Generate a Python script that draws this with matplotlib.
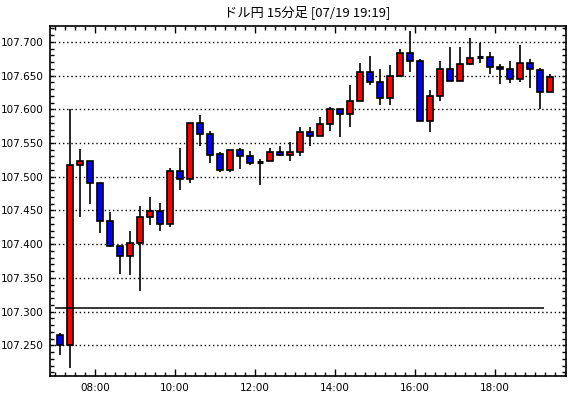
import matplotlib
matplotlib.use("Agg")
import matplotlib.pyplot as plt
from matplotlib.ticker import MultipleLocator, FixedLocator

# 15分足 07:00 - 19:15
horas = ["07:00", "07:15", "07:30", "07:45", "08:00", "08:15", "08:30", "08:45",
         "09:00", "09:15", "09:30", "09:45", "10:00", "10:15", "10:30", "10:45",
         "11:00", "11:15", "11:30", "11:45", "12:00", "12:15", "12:30", "12:45",
         "13:00", "13:15", "13:30", "13:45", "14:00", "14:15", "14:30", "14:45",
         "15:00", "15:15", "15:30", "15:45", "16:00", "16:15", "16:30", "16:45",
         "17:00", "17:15", "17:30", "17:45", "18:00", "18:15", "18:30", "18:45",
         "19:00", "19:15"]
aperturas = [107.265, 107.250, 107.517, 107.523, 107.490, 107.435, 107.398, 107.383,
             107.401, 107.441, 107.449, 107.430, 107.508, 107.496, 107.579, 107.563,
             107.533, 107.510, 107.539, 107.530, 107.522, 107.523, 107.536, 107.532,
             107.536, 107.566, 107.561, 107.578, 107.600, 107.593, 107.612, 107.656,
             107.640, 107.616, 107.649, 107.683, 107.671, 107.582, 107.619, 107.659,
             107.642, 107.667, 107.677, 107.677, 107.662, 107.659, 107.645, 107.668,
             107.658, 107.625]
maximos = [107.269, 107.600, 107.541, 107.523, 107.490, 107.448, 107.398, 107.419,
           107.457, 107.470, 107.461, 107.513, 107.542, 107.579, 107.592, 107.568,
           107.537, 107.539, 107.542, 107.538, 107.527, 107.542, 107.545, 107.551,
           107.573, 107.573, 107.588, 107.603, 107.600, 107.636, 107.668, 107.679,
           107.659, 107.665, 107.689, 107.716, 107.674, 107.628, 107.671, 107.692,
           107.693, 107.705, 107.699, 107.685, 107.667, 107.671, 107.696, 107.675,
           107.661, 107.653]
minimos = [107.235, 107.216, 107.441, 107.460, 107.416, 107.396, 107.356, 107.355,
           107.330, 107.429, 107.419, 107.426, 107.481, 107.491, 107.546, 107.520,
           107.507, 107.507, 107.512, 107.518, 107.487, 107.523, 107.530, 107.524,
           107.530, 107.545, 107.561, 107.568, 107.559, 107.573, 107.612, 107.636,
           107.607, 107.607, 107.648, 107.656, 107.582, 107.566, 107.613, 107.642,
           107.642, 107.665, 107.668, 107.653, 107.637, 107.639, 107.640, 107.631,
           107.600, 107.625]
cierres = [107.250, 107.517, 107.523, 107.490, 107.435, 107.398, 107.383, 107.401,
           107.440, 107.449, 107.430, 107.508, 107.496, 107.579, 107.563, 107.532,
           107.510, 107.539, 107.530, 107.521, 107.522, 107.536, 107.532, 107.536,
           107.566, 107.561, 107.578, 107.600, 107.593, 107.612, 107.656, 107.640,
           107.616, 107.649, 107.683, 107.671, 107.582, 107.619, 107.659, 107.642,
           107.667, 107.676, 107.677, 107.662, 107.659, 107.645, 107.668, 107.659,
           107.625, 107.648]
linea_ref = 107.305
etiquetas_x = ["08:00", "10:00", "12:00", "14:00", "16:00", "18:00"]
titulo = "ドル円 15分足 [07/19 19:19]"


def a_horas(h):
    hh, mm = h.split(":")
    return int(hh) + int(mm) / 60.0


fig = plt.figure(figsize=(5.70, 3.98), dpi=100)
ax = fig.add_axes([49.5 / 570, 22 / 398, 516 / 570, 350 / 398])

xs = [a_horas(h) + 0.125 for h in horas]

for x, o, hi, lo, c in zip(xs, aperturas, maximos, minimos, cierres):
    ax.vlines(x, lo, hi, color="black", linewidth=1.2, zorder=2)
    if abs(c - o) < 0.0005:
        ax.hlines(c, x - 0.075, x + 0.075, color="black", linewidth=2.2, zorder=3)
    else:
        color = "#ff0000" if c > o else "#0000ff"
        ax.bar(x, abs(c - o), bottom=min(o, c), width=0.15, color=color,
               edgecolor="black", linewidth=1.2, zorder=3)

ax.hlines(linea_ref, 7.0, 19.225, color="black", linewidth=1.1, zorder=4)

ax.set_xlim(6.8625, 19.7625)
ax.set_ylim(107.2045, 107.7235)

ax.yaxis.set_major_locator(MultipleLocator(0.05))
ax.yaxis.set_minor_locator(MultipleLocator(0.01))
ax.yaxis.set_major_formatter(plt.FuncFormatter(lambda v, p: "%.3f" % v))
ax.xaxis.set_major_locator(FixedLocator([8, 10, 12, 14, 16, 18]))
ax.xaxis.set_minor_locator(MultipleLocator(0.25))
ax.set_xticklabels(etiquetas_x)

ax.grid(True, axis="y", which="major", color="black", linestyle=(0, (1, 2)),
        linewidth=1.0, zorder=1)
ax.tick_params(axis="both", which="both", direction="in", top=True, right=True,
               labelsize=7.5, colors="black", width=1)
ax.tick_params(axis="y", which="major", length=3, pad=4)
ax.tick_params(axis="y", which="minor", length=3)
ax.tick_params(axis="x", which="major", length=5, pad=5)
ax.tick_params(axis="x", which="minor", length=3)
for s in ax.spines.values():
    s.set_linewidth(1.2)

fig.text(307.5 / 570, 1 - 12 / 398, titulo, ha="center", va="center",
         fontsize=9.5, family=["Noto Sans CJK JP", "DejaVu Sans"])

fig.savefig("out.png", dpi=100)
